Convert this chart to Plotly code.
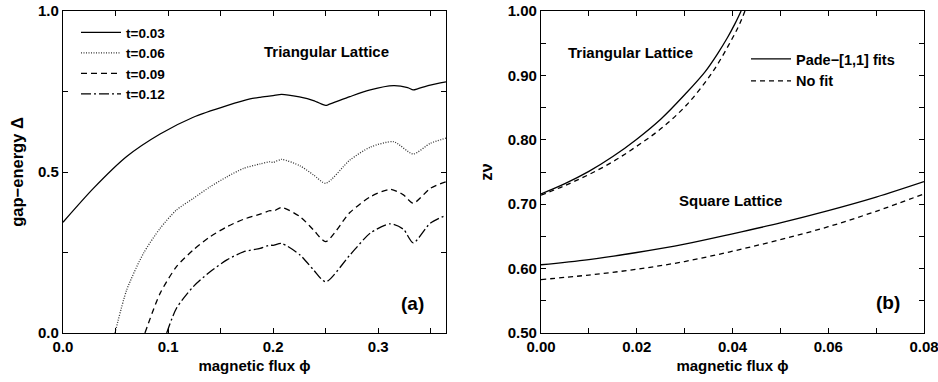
import plotly.graph_objects as go

# ---------------- Data: panel (a) ----------------
phi_t003 = [0.0, 0.0289, 0.0606, 0.0924, 0.124, 0.156, 0.178, 0.1876, 0.2, 0.208, 0.225, 0.2384, 0.2475, 0.25, 0.2525,
            0.273, 0.2924, 0.3146, 0.328, 0.3333, 0.338, 0.3495, 0.3645]
gap_t003 = [0.344, 0.449, 0.548, 0.618, 0.670, 0.706, 0.727, 0.732, 0.737, 0.741, 0.733, 0.722, 0.709, 0.707, 0.709,
            0.734, 0.755, 0.768, 0.762, 0.755, 0.759, 0.770, 0.780]

phi_t006 = [0.0495, 0.0606, 0.0765, 0.0924, 0.108, 0.124, 0.14, 0.156, 0.1717, 0.1876, 0.197, 0.2, 0.208, 0.2257,
            0.2384, 0.25, 0.273, 0.2924, 0.3146, 0.3333, 0.3495, 0.3645]
gap_t006 = [0.0, 0.1335, 0.247, 0.325, 0.382, 0.418, 0.454, 0.485, 0.511, 0.525, 0.532, 0.530, 0.539, 0.519,
            0.491, 0.465, 0.537, 0.577, 0.594, 0.556, 0.589, 0.605]

phi_t009 = [0.078, 0.0924, 0.108, 0.124, 0.14, 0.156, 0.1717, 0.1876, 0.197, 0.2, 0.208, 0.2257, 0.2384, 0.25,
            0.273, 0.2924, 0.3114, 0.324, 0.3333, 0.3495, 0.3645]
gap_t009 = [0.0, 0.123, 0.206, 0.258, 0.299, 0.330, 0.353, 0.369, 0.380, 0.378, 0.390, 0.361, 0.320, 0.284,
            0.374, 0.423, 0.446, 0.429, 0.403, 0.449, 0.470]

phi_t012 = [0.0987, 0.108, 0.124, 0.14, 0.156, 0.1717, 0.1876, 0.197, 0.2, 0.208, 0.2257, 0.2384, 0.25, 0.273,
            0.2924, 0.3114, 0.324, 0.3333, 0.3495, 0.3645]
gap_t012 = [0.0, 0.077, 0.144, 0.190, 0.227, 0.252, 0.263, 0.273, 0.272, 0.278, 0.242, 0.196, 0.159, 0.242,
            0.310, 0.339, 0.322, 0.280, 0.341, 0.366]

# ---------------- Data: panel (b) ----------------
phi_tri_pade = [0.0, 0.005, 0.010, 0.015, 0.020, 0.025, 0.030, 0.0343, 0.0370, 0.0389, 0.0405, 0.0418]
zv_tri_pade = [0.716, 0.732, 0.751, 0.774, 0.801, 0.832, 0.870, 0.906, 0.935, 0.958, 0.980, 1.0]

phi_tri_nofit = [0.0, 0.005, 0.010, 0.015, 0.020, 0.025, 0.0304, 0.0359, 0.0400, 0.0415, 0.0426]
zv_tri_nofit = [0.714, 0.729, 0.746, 0.766, 0.790, 0.817, 0.854, 0.906, 0.958, 0.980, 1.0]

phi_sq = [0.0, 0.01, 0.02, 0.03, 0.04, 0.05, 0.06, 0.07, 0.08]
zv_sq_pade = [0.606, 0.614, 0.625, 0.638, 0.654, 0.671, 0.690, 0.711, 0.735]
zv_sq_nofit = [0.583, 0.590, 0.599, 0.611, 0.627, 0.645, 0.665, 0.689, 0.716]

# ---------------- Tick labels ----------------
xa_tickvals = [0.0, 0.05, 0.1, 0.15, 0.2, 0.25, 0.3, 0.35]
xa_ticktext = ["0.0", "", "0.1", "", "0.2", "", "0.3", ""]
ya_tickvals = [0.0, 0.25, 0.5, 0.75, 1.0]
ya_ticktext = ["0.0", "", "0.5", "", "1.0"]
xb_tickvals = [0.0, 0.01, 0.02, 0.03, 0.04, 0.05, 0.06, 0.07, 0.08]
xb_ticktext = ["0.00", "", "0.02", "", "0.04", "", "0.06", "", "0.08"]
yb_tickvals = [0.5, 0.55, 0.6, 0.65, 0.7, 0.75, 0.8, 0.85, 0.9, 0.95, 1.0]
yb_ticktext = ["0.50", "", "0.60", "", "0.70", "", "0.80", "", "0.90", "", "1.00"]

FONT = "Liberation Sans, Arial, Helvetica, sans-serif"
W, H = 938, 382


def px(p):  # pixel x -> paper x
    return p / W


def py(p):  # pixel y -> paper y
    return 1 - p / H


fig = go.Figure()


def line(x, y, name, dash, xa, ya, legend, showlegend=True, group=None, width=1.3, color="black", smooth=0.7):
    fig.add_trace(go.Scatter(
        x=x, y=y, mode="lines", name=name,
        line=dict(color=color, width=width, dash=dash, shape="spline", smoothing=smooth),
        xaxis=xa, yaxis=ya, legend=legend, showlegend=showlegend,
        legendgroup=group, hoverinfo="skip"))


line(phi_t003, gap_t003, "t=0.03", "solid", "x", "y", "legend")
line(phi_t006, gap_t006, "t=0.06", "1px,1.5px", "x", "y", "legend", color="#333")
line(phi_t009, gap_t009, "t=0.09", "6px,4px", "x", "y", "legend")
line(phi_t012, gap_t012, "t=0.12", "10px,3px,2px,3px", "x", "y", "legend")

line(phi_tri_pade, zv_tri_pade, "Pade\u2212[1,1] fits", "solid", "x2", "y2", "legend2", group="p", smooth=1.0)
line(phi_tri_nofit, zv_tri_nofit, "No fit", "5px,4px", "x2", "y2", "legend2", group="n", smooth=1.0)
line(phi_sq, zv_sq_pade, "Pade\u2212[1,1] fits", "solid", "x2", "y2", "legend2", showlegend=False, group="p", smooth=1.0)
line(phi_sq, zv_sq_nofit, "No fit", "5px,4px", "x2", "y2", "legend2", showlegend=False, group="n", smooth=1.0)

axis_common = dict(
    showline=True, linecolor="black", linewidth=1.2, mirror="ticks",
    ticks="inside", ticklen=5, tickwidth=1, tickcolor="black",
    showgrid=False, zeroline=False, automargin=False, ticklabeloverflow="allow",
    tickfont=dict(family=FONT, size=15, color="black", weight="bold"),
)
title_font = dict(family=FONT, size=15, color="black", weight="bold")
ytitle_font = dict(family=FONT, size=16.5, color="black", weight="bold")

fig.update_layout(
    width=W, height=H,
    margin=dict(l=0, r=0, t=0, b=0, autoexpand=False),
    paper_bgcolor="white", plot_bgcolor="white",
    showlegend=True,
    xaxis=dict(domain=[px(63), px(446)], range=[0, 0.3645], tickvals=xa_tickvals, ticktext=xa_ticktext,
               title=dict(text="magnetic flux \u03d5", font=title_font, standoff=6), anchor="y", **axis_common),
    yaxis=dict(domain=[py(333), py(11)], range=[0, 1.0], tickvals=ya_tickvals, ticktext=ya_ticktext,
               title=dict(text="gap\u2212energy \u0394", font=ytitle_font, standoff=10), anchor="x", **axis_common),
    xaxis2=dict(domain=[px(541), px(924)], range=[0, 0.08], tickvals=xb_tickvals, ticktext=xb_ticktext,
                title=dict(text="magnetic flux \u03d5", font=title_font, standoff=6), anchor="y2", **axis_common),
    yaxis2=dict(domain=[py(333), py(11)], range=[0.5, 1.0], tickvals=yb_tickvals, ticktext=yb_ticktext,
                title=dict(text="z\u03bd", font=ytitle_font, standoff=10), anchor="x2", **axis_common),
    legend=dict(x=px(76), y=py(17), xanchor="left", yanchor="top", bgcolor="rgba(0,0,0,0)",
                font=dict(family=FONT, size=13.5, color="black", weight="bold"), itemwidth=40,
                tracegroupgap=0),
    legend2=dict(x=px(746), y=py(43), xanchor="left", yanchor="top", bgcolor="rgba(0,0,0,0)",
                 font=dict(family=FONT, size=14.5, color="black", weight="bold"), itemwidth=40,
                 tracegroupgap=0),
)

ann_font = dict(family=FONT, size=15, color="black", weight="bold")
fig.add_annotation(x=0.2505, y=0.873, xref="x", yref="y", text="Triangular Lattice", showarrow=False, font=ann_font)
fig.add_annotation(x=0.333, y=0.093, xref="x", yref="y", text="(a)", showarrow=False,
                   font=dict(family=FONT, size=19, color="black", weight="bold"))
fig.add_annotation(x=0.0186, y=0.935, xref="x2", yref="y2", text="Triangular Lattice", showarrow=False, font=ann_font)
fig.add_annotation(x=0.0395, y=0.705, xref="x2", yref="y2", text="Square Lattice", showarrow=False, font=ann_font)
fig.add_annotation(x=0.0725, y=0.547, xref="x2", yref="y2", text="(b)", showarrow=False,
                   font=dict(family=FONT, size=19, color="black", weight="bold"))

# remove the default page margin so the figure sits at the window's top-left corner
fig.write_html("out.html", config={"displayModeBar": False},
               post_script="document.body.style.margin='0px';")
